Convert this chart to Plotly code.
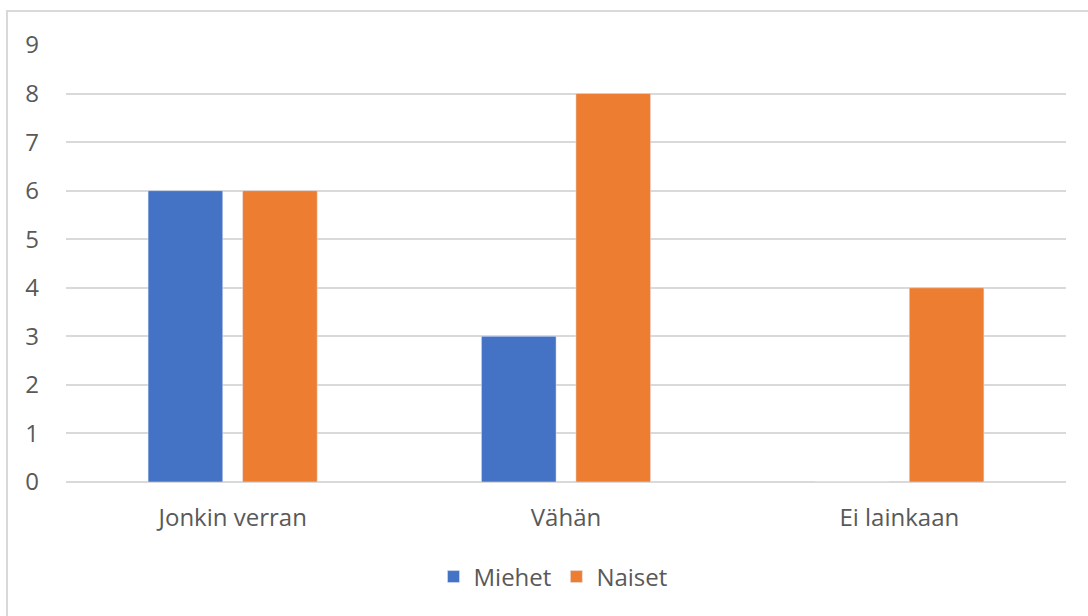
import plotly.graph_objects as go

categories = ["Jonkin verran", "Vähän", "Ei lainkaan"]
miehet = [6, 3, 0]
naiset = [6, 8, 4]
y_ticks = [0, 1, 2, 3, 4, 5, 6, 7, 8, 9]

W, H = 1088, 616
L, R, T, B = 66, 22, 45, 134
plot_h = H - T - B

fig = go.Figure()
fig.add_trace(go.Bar(name="Miehet", x=categories, y=miehet, marker_color="#4472C4"))
fig.add_trace(go.Bar(name="Naiset", x=categories, y=naiset, marker_color="#ED7D31"))

font_family = "'Open Sans', sans-serif"
fs = 24
fig.update_layout(
    width=W, height=H,
    margin=dict(l=L, r=R, t=T, b=B, pad=0),
    paper_bgcolor="white", plot_bgcolor="white",
    barmode="group", bargap=0.433, bargroupgap=0.21,
    font=dict(family=font_family, size=fs, color="#595959"),
    showlegend=True,
    legend=dict(orientation="h", x=0.487, xanchor="center", y=(482 - 577) / plot_h, yanchor="middle",
                font=dict(size=fs, color="#595959"), itemwidth=30, traceorder="normal"),
    xaxis=dict(showgrid=False, showline=False, zeroline=False, ticks="", ticklabelstandoff=19,
               tickfont=dict(size=fs, color="#595959")),
    yaxis=dict(range=[0, 9], tickvals=y_ticks, showgrid=True, gridcolor="#D9D9D9", gridwidth=2,
               zeroline=True, zerolinecolor="#D9D9D9", zerolinewidth=2, showline=False, ticks="",
               ticklabelstandoff=26, tickfont=dict(size=fs, color="#595959")),
    shapes=[dict(type="rect", xref="paper", yref="paper",
                 x0=(7 - L) / (W - L - R), x1=(W + 10 - L) / (W - L - R),
                 y0=-(B + 10) / plot_h, y1=(482 - 11) / plot_h,
                 line=dict(color="#D9D9D9", width=2), fillcolor="rgba(0,0,0,0)", layer="below")],
)

fig.write_html("out.html")
